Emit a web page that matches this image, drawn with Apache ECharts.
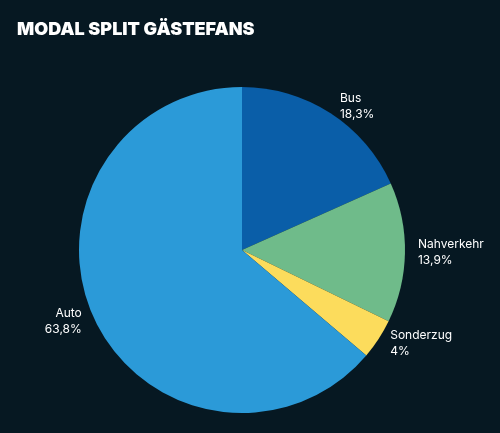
<!DOCTYPE html>
<html><head><meta charset="utf-8">
<script src="https://cdn.jsdelivr.net/npm/echarts@6/dist/echarts.min.js"></script>
<style>html,body{margin:0;padding:0;background:#061822}#c{width:500px;height:433px}</style>
</head><body><div id="c"></div>
<script>
const categories = ["Bus", "Nahverkehr", "Sonderzug", "Auto"];
const values = [18.3, 13.9, 4, 63.8];
const colors = ["#0a5ea8", "#6fbb8a", "#fcdc5c", "#2b9ad8"];
const chart = echarts.init(document.getElementById('c'));
chart.setOption({
  backgroundColor: '#061822',
  title: { text: 'MODAL SPLIT GÄSTEFANS', left: 12, top: 16,
    textStyle: { color: '#fff', fontFamily: 'Inter', fontWeight: 900, fontSize: 18 } },
  series: [{
    type: 'pie', center: [242, 250], radius: 163, startAngle: 90, clockwise: true,
    data: categories.map((n, i) => ({ name: n, value: values[i], itemStyle: { color: colors[i] } })),
    label: { show: true, position: 'outside', color: '#fff', fontFamily: 'Inter', fontSize: 12, lineHeight: 16,
      formatter: p => p.name + '\n' + String(p.value).replace('.', ',') + '%' },
    labelLine: { show: false, length: 8, length2: 0 },
    itemStyle: { borderWidth: 0 }
  }]
});
</script></body></html>
